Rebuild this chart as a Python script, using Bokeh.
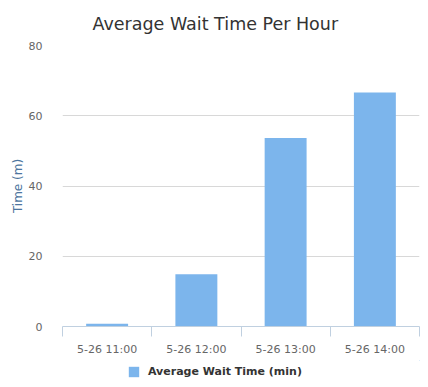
from bokeh.plotting import figure
from bokeh.layouts import column
from bokeh.models import (Range1d, FixedTicker, Legend, LegendItem, ColumnDataSource, Title)
from bokeh.embed import file_html
from bokeh.resources import INLINE

categories = ["5-26 11:00", "5-26 12:00", "5-26 13:00", "5-26 14:00"]
wait_times = [0.8, 14.9, 53.7, 66.6]
y_ticks = [0, 20, 40, 60, 80]
series_name = "Average Wait Time (min)"

FONT = "DejaVu Sans"
BAR_COLOR = "#7cb5ec"
positions = [i + 0.5 for i in range(len(categories))]
src = ColumnDataSource(dict(x=positions, top=wait_times, cat=categories))

p = figure(frame_width=357, frame_height=281, output_backend="svg", toolbar_location=None,
           x_range=Range1d(0, len(categories)), y_range=Range1d(0, 80),
           min_border_left=62, min_border_right=1, min_border_top=45, min_border_bottom=34)
p.outline_line_color = None
p.background_fill_color = "white"
p.border_fill_color = "white"

r = p.vbar(x="x", top="top", width=0.47, bottom=0, source=src,
           fill_color=BAR_COLOR, line_color=None)

# title
p.title = Title(text="Average Wait Time Per Hour", align="left", offset=30,
                text_font=FONT, text_font_size="17.5px", text_font_style="normal",
                text_color="#333333", standoff=23)

# x axis
xa = p.xaxis[0]
xa.ticker = FixedTicker(ticks=positions, minor_ticks=list(range(len(categories) + 1)))
xa.major_label_overrides = {pos: c for pos, c in zip(positions, categories)}
xa.major_tick_out = 0
xa.major_tick_in = 0
xa.minor_tick_out = 10
xa.minor_tick_in = 0
xa.minor_tick_line_color = "#C0D0E0"
xa.axis_line_color = "#C0D0E0"
xa.major_label_text_font = FONT
xa.major_label_text_font_size = "11px"
xa.major_label_text_color = "#666666"
xa.major_label_standoff = 6

# y axis
ya = p.yaxis[0]
ya.ticker = FixedTicker(ticks=y_ticks)
ya.axis_line_color = None
ya.major_tick_line_color = None
ya.minor_tick_line_color = None
ya.major_label_text_font = FONT
ya.major_label_text_font_size = "11px"
ya.major_label_text_color = "#666666"
ya.major_label_standoff = 14
ya.axis_label = "Time (m)"
ya.axis_label_text_font = FONT
ya.axis_label_text_font_size = "12px"
ya.axis_label_text_font_style = "normal"
ya.axis_label_text_color = "#4d759e"
ya.axis_label_standoff = 1

p.xgrid.grid_line_color = None
p.ygrid.grid_line_color = "#D8D8D8"
p.ygrid.ticker = FixedTicker(ticks=y_ticks)

# legend strip below the chart (its renderer is kept out of view)
p2 = figure(width=420, height=27, output_backend="svg", toolbar_location=None,
            x_range=Range1d(-10, -9), y_range=Range1d(-2, -1),
            min_border=0, x_axis_location=None, y_axis_location=None)
p2.outline_line_color = None
p2.border_fill_color = "white"
p2.background_fill_color = "white"
p2.xgrid.visible = False
p2.ygrid.visible = False
r2 = p2.vbar(x="x", top="top", width=0.47, bottom=0, source=src,
             fill_color=BAR_COLOR, line_color=None)
legend = Legend(items=[LegendItem(label=series_name, renderers=[r2])],
                location=(65, 9), orientation="horizontal",
                glyph_width=13, glyph_height=13, label_height=13, label_standoff=8,
                padding=0, margin=0, border_line_alpha=0, background_fill_alpha=0,
                label_text_font=FONT, label_text_font_size="11px",
                label_text_font_style="bold", label_text_color="#333333")
p2.add_layout(legend, "center")

layout = column(p, p2, spacing=0)
open("out.html", "w").write(file_html(layout, INLINE))
